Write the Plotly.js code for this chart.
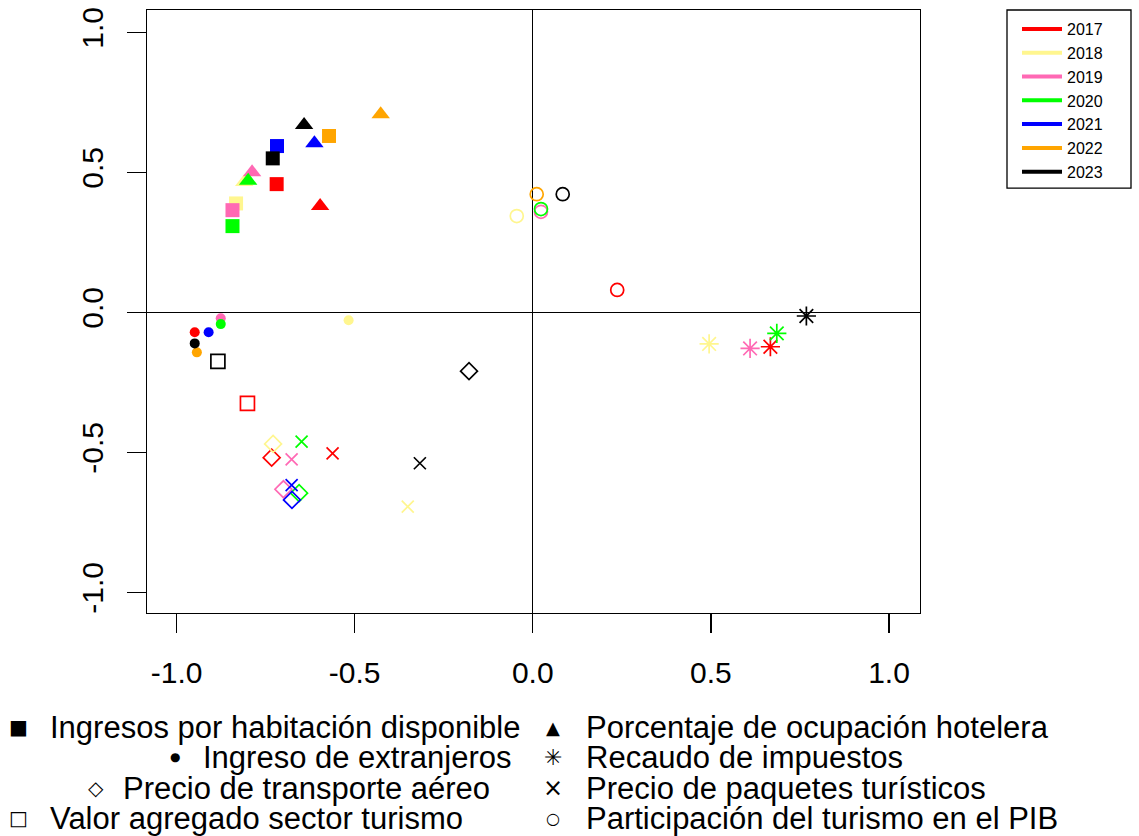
<!DOCTYPE html>
<html>
<head>
<meta charset="utf-8">
<script src="https://cdn.plot.ly/plotly-3.0.1.min.js"></script>
<style>html,body{margin:0;padding:0;background:#fff;}#chart{width:1139px;height:836px;}</style>
</head>
<body>
<div id="chart"></div>
<script>
// ---- Data ----
const years = ["2017", "2018", "2019", "2020", "2021", "2022", "2023"];
const yearColors = ["#FF0000", "#FFF68F", "#FF69B4", "#00FF00", "#0000FF", "#FFA500", "#000000"];

const variableNames = [
  "Ingresos por habitación disponible",
  "Porcentaje de ocupación hotelera",
  "Ingreso de extranjeros",
  "Recaudo de impuestos",
  "Precio de transporte aéreo",
  "Precio de paquetes turísticos",
  "Valor agregado sector turismo",
  "Participación del turismo en el PIB"
];

// values per year (2017..2023); null = not shown
const ingresosHab_x = [-0.719, -0.833, -0.843, -0.843, -0.718, -0.572, -0.730];
const ingresosHab_y = [0.458, 0.389, 0.365, 0.308, 0.594, 0.630, 0.550];

const ocupacion_x = [-0.597, -0.810, -0.788, -0.799, -0.613, -0.427, -0.642];
const ocupacion_y = [0.380, 0.466, 0.500, 0.470, 0.604, 0.708, 0.669];

const extranjeros_x = [-0.949, -0.517, -0.876, -0.876, -0.910, -0.943, -0.949];
const extranjeros_y = [-0.071, -0.028, -0.021, -0.042, -0.071, -0.143, -0.111];

const impuestos_x = [0.667, 0.495, 0.610, 0.685, null, null, 0.768];
const impuestos_y = [-0.123, -0.113, -0.129, -0.075, null, null, -0.013];

const aereo_x = [-0.733, -0.729, -0.700, -0.656, -0.676, null, -0.179];
const aereo_y = [-0.519, -0.470, -0.632, -0.646, -0.670, null, -0.210];

const paquetes_x = [-0.562, -0.351, -0.677, -0.649, -0.677, null, -0.317];
const paquetes_y = [-0.504, -0.694, -0.525, -0.462, -0.617, null, -0.539];

const valorAgregado_x = [-0.801, null, null, null, null, null, -0.884];
const valorAgregado_y = [-0.325, null, null, null, null, null, -0.175];

const pib_x = [0.237, -0.045, 0.023, 0.023, null, 0.011, 0.084];
const pib_y = [0.080, 0.344, 0.359, 0.369, null, 0.422, 0.422];

const tickVals = [-1, -0.5, 0, 0.5, 1];
const tickText = ["-1.0", "-0.5", "0.0", "0.5", "1.0"];

// ---- Traces ----
function markerTrace(name, xs, ys, symbol, size, open) {
  return {
    type: "scatter", mode: "markers", name: name, showlegend: false,
    x: xs, y: ys, text: years, hoverinfo: "x+y+text",
    marker: {
      symbol: symbol, size: size, color: yearColors,
      line: open ? {color: yearColors, width: 1.7} : {width: 0}
    }
  };
}

const traces = [
  markerTrace(variableNames[0], ingresosHab_x, ingresosHab_y, "square", 14, false),
  markerTrace(variableNames[1], ocupacion_x, ocupacion_y, "triangle-up", 16, false),
  markerTrace(variableNames[2], extranjeros_x, extranjeros_y, "circle", 10, false),
  markerTrace(variableNames[3], impuestos_x, impuestos_y, "asterisk-open", 16, true),
  markerTrace(variableNames[4], aereo_x, aereo_y, "diamond-open", 13, true),
  markerTrace(variableNames[5], paquetes_x, paquetes_y, "x-thin-open", 12, true),
  markerTrace(variableNames[6], valorAgregado_x, valorAgregado_y, "square-open", 14, true),
  markerTrace(variableNames[7], pib_x, pib_y, "circle-open", 13, true)
];

years.forEach((yr, i) => {
  traces.push({
    type: "scatter", mode: "lines", name: yr, x: [null], y: [null],
    line: {color: yearColors[i], width: 4}, showlegend: true, hoverinfo: "skip"
  });
});

// ---- Bottom legend (text annotations) ----
const L = 147, R = 920, T = 10, B = 612.7;
const PX = px => (px - L) / (R - L);
const PY = py => (B - py) / (B - T);

const legendRows = [
  {sym: "■", symX: 18, symSize: 20, label: variableNames[0], textX: 48, y: 727},
  {sym: "●", symX: 175, symSize: 12, label: variableNames[2], textX: 201, y: 757},
  {sym: "◇", symX: 96, symSize: 20, label: variableNames[4], textX: 121, y: 788},
  {sym: "□", symX: 18, symSize: 20, label: variableNames[6], textX: 48, y: 818},
  {sym: "▲", symX: 553, symSize: 18, label: variableNames[1], textX: 584, y: 727},
  {sym: "✳", symX: 553, symSize: 22, label: variableNames[3], textX: 584, y: 757},
  {sym: "×", symX: 553, symSize: 24, label: variableNames[5], textX: 584, y: 788},
  {sym: "○", symX: 553, symSize: 16, label: variableNames[7], textX: 584, y: 818}
];

const annotations = [];
legendRows.forEach(r => {
  annotations.push({
    xref: "paper", yref: "paper", x: PX(r.symX), y: PY(r.y),
    xanchor: "center", yanchor: "middle", text: r.sym, showarrow: false,
    font: {family: "DejaVu Sans", size: r.symSize, color: "#000"}
  });
  annotations.push({
    xref: "paper", yref: "paper", x: PX(r.textX), y: PY(r.y),
    xanchor: "left", yanchor: "middle", text: r.label, showarrow: false,
    font: {family: "Liberation Sans, Arial, sans-serif", size: 31, color: "#000"}
  });
});

const axisCommon = {
  tickvals: tickVals, ticktext: tickText,
  ticks: "outside", ticklen: 19, tickwidth: 1.3, tickcolor: "#000",
  showline: true, mirror: true, linecolor: "#000", linewidth: 1.3,
  showgrid: false, zeroline: true, zerolinecolor: "#000", zerolinewidth: 1.3,
  tickfont: {family: "Liberation Sans, Arial, sans-serif", size: 30, color: "#000"},
  fixedrange: true
};

const layout = {
  width: 1139, height: 836,
  margin: {l: L, r: 1139 - R, t: T, b: 836 - B, pad: 0},
  paper_bgcolor: "#fff", plot_bgcolor: "#fff",
  font: {family: "Liberation Sans, Arial, sans-serif", color: "#000"},
  xaxis: Object.assign({}, axisCommon, {range: [-1.083, 1.087], ticklabelstandoff: 14}),
  yaxis: Object.assign({}, axisCommon, {range: [-1.074, 1.08], tickangle: -90, ticklabelstandoff: 12}),
  showlegend: true,
  legend: {
    x: PX(1017), y: PY(12), xanchor: "left", yanchor: "top",
    borderwidth: 0, bgcolor: "rgba(0,0,0,0)",
    font: {family: "Liberation Sans, Arial, sans-serif", size: 16, color: "#000"},
    itemwidth: 40
  },
  shapes: [{
    type: "rect", xref: "paper", yref: "paper",
    x0: PX(1007), x1: PX(1131), y0: PY(188), y1: PY(10),
    line: {color: "#000", width: 1.3}, fillcolor: "rgba(0,0,0,0)", layer: "below"
  }],
  annotations: annotations
};

Plotly.newPlot("chart", traces, layout, {displayModeBar: false, staticPlot: true});
</script>
</body>
</html>
